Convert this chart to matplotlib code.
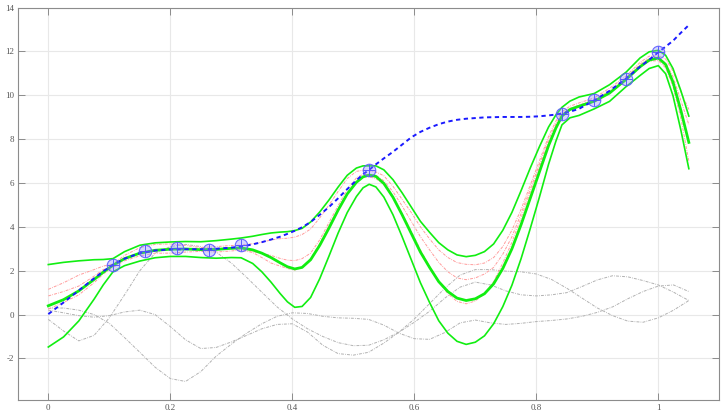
import numpy as np
import matplotlib
matplotlib.use("Agg")
import matplotlib.pyplot as plt

# ---------------- data ----------------
x_post = [0.000, 0.025, 0.050, 0.075, 0.090, 0.106, 0.125, 0.150, 0.175, 0.200,
          0.225, 0.250, 0.275, 0.300, 0.316, 0.335, 0.350, 0.365, 0.380, 0.392,
          0.404, 0.416, 0.430, 0.445, 0.460, 0.475, 0.490, 0.505, 0.516, 0.526,
          0.537, 0.550, 0.565, 0.580, 0.595, 0.610, 0.625, 0.640, 0.655, 0.670,
          0.685, 0.700, 0.715, 0.730, 0.745, 0.760, 0.775, 0.790, 0.805, 0.820,
          0.832, 0.842, 0.855, 0.870, 0.895, 0.920, 0.947, 0.970, 0.985, 1.000,
          1.012, 1.024, 1.037, 1.050]

true_f = [0.02, 0.55, 1.10, 1.65, 1.97, 2.27, 2.55, 2.80, 2.92, 2.97,
          2.98, 2.98, 3.00, 3.05, 3.10, 3.20, 3.30, 3.42, 3.55, 3.68,
          3.82, 3.98, 4.22, 4.55, 4.90, 5.30, 5.72, 6.12, 6.40, 6.60,
          6.85, 7.12, 7.42, 7.75, 8.08, 8.33, 8.52, 8.68, 8.80, 8.88,
          8.93, 8.96, 8.99, 9.00, 9.01, 9.01, 9.01, 9.02, 9.04, 9.08,
          9.12, 9.17, 9.25, 9.38, 9.77, 10.20, 10.76, 11.30, 11.62, 11.96,
          12.22, 12.48, 12.85, 13.20]

post_mean = [0.40, 0.68, 1.08, 1.60, 1.93, 2.25, 2.55, 2.80, 2.93, 2.98,
             2.99, 2.96, 2.97, 3.02, 3.04, 2.95, 2.80, 2.60, 2.36, 2.18,
             2.08, 2.15, 2.50, 3.16, 3.94, 4.76, 5.50, 6.03, 6.28, 6.36,
             6.30, 5.98, 5.35, 4.55, 3.70, 2.85, 2.15, 1.50, 1.05, 0.75,
             0.64, 0.72, 0.95, 1.40, 2.10, 3.00, 4.10, 5.30, 6.50, 7.70,
             8.50, 9.05, 9.35, 9.50, 9.73, 10.10, 10.72, 11.30, 11.60, 11.70,
             11.40, 10.60, 9.30, 7.85]

post_upper = [2.28, 2.38, 2.45, 2.50, 2.51, 2.55, 2.87, 3.16, 3.27, 3.31,
              3.33, 3.32, 3.37, 3.44, 3.49, 3.57, 3.65, 3.72, 3.76, 3.78,
              3.83, 3.93, 4.22, 4.68, 5.22, 5.81, 6.35, 6.68, 6.78, 6.78,
              6.78, 6.60, 6.15, 5.55, 4.90, 4.25, 3.75, 3.28, 2.95, 2.72,
              2.64, 2.70, 2.87, 3.22, 3.84, 4.66, 5.65, 6.68, 7.65, 8.55,
              9.10, 9.45, 9.73, 9.92, 10.08, 10.48, 11.05, 11.70, 11.98, 12.05,
              11.82, 11.22, 10.20, 9.05]

post_lower = [-1.48, -1.02, -0.29, 0.70, 1.35, 1.95, 2.23, 2.44, 2.59, 2.65,
              2.65, 2.60, 2.57, 2.60, 2.59, 2.33, 1.95, 1.48, 0.96, 0.58,
              0.33, 0.37, 0.78, 1.64, 2.66, 3.71, 4.65, 5.38, 5.78, 5.94,
              5.82, 5.36, 4.55, 3.55, 2.50, 1.45, 0.55, -0.28, -0.85, -1.22,
              -1.36, -1.26, -0.97, -0.42, 0.36, 1.34, 2.55, 3.92, 5.35, 6.85,
              7.90, 8.65, 8.97, 9.08, 9.38, 9.72, 10.39, 10.90, 11.22, 11.35,
              10.98, 9.98, 8.40, 6.65]

post_sample_1 = [1.15, 1.45, 1.80, 2.05, 2.21, 2.30, 2.70, 3.05, 3.20, 3.22,
                 3.15, 3.05, 3.10, 3.15, 3.16, 3.23, 3.30, 3.40, 3.46, 3.48,
                 3.53, 3.65, 3.90, 4.41, 4.99, 5.61, 6.20, 6.53, 6.58, 6.56,
                 6.50, 6.33, 5.85, 5.25, 4.65, 4.00, 3.45, 2.95, 2.60, 2.37,
                 2.29, 2.27, 2.35, 2.60, 3.10, 3.85, 4.80, 5.90, 7.00, 8.12,
                 8.82, 9.25, 9.50, 9.65, 9.88, 10.32, 10.87, 11.50, 11.78, 11.80,
                 11.65, 11.10, 10.15, 9.35]

post_sample_2 = [0.85, 1.05, 1.30, 1.75, 2.05, 2.25, 2.55, 2.78, 2.90, 2.95,
                 3.00, 2.98, 2.95, 3.00, 3.00, 2.87, 2.80, 2.70, 2.56, 2.48,
                 2.46, 2.55, 2.80, 3.41, 4.19, 4.96, 5.70, 6.23, 6.40, 6.38,
                 6.35, 6.10, 5.60, 4.95, 4.25, 3.55, 2.95, 2.38, 1.95, 1.67,
                 1.59, 1.67, 1.85, 2.15, 2.75, 3.55, 4.60, 5.72, 6.85, 7.98,
                 8.70, 9.15, 9.40, 9.55, 9.78, 10.20, 10.80, 11.42, 11.68, 11.70,
                 11.48, 10.85, 9.75, 8.66]

post_sample_3 = [0.25, 0.55, 0.90, 1.45, 1.85, 2.15, 2.45, 2.68, 2.80, 2.80,
                 2.85, 2.88, 2.85, 2.90, 2.94, 2.83, 2.60, 2.35, 2.21, 2.10,
                 2.03, 2.15, 2.55, 3.24, 4.04, 4.81, 5.55, 6.08, 6.30, 6.28,
                 6.20, 5.93, 5.35, 4.60, 3.80, 2.95, 2.20, 1.50, 0.95, 0.60,
                 0.49, 0.62, 0.95, 1.50, 2.35, 3.30, 4.40, 5.58, 6.72, 7.85,
                 8.60, 9.05, 9.30, 9.45, 9.68, 10.10, 10.70, 11.30, 11.55, 11.58,
                 11.25, 10.40, 8.95, 6.99]

x_prior = [0.000, 0.025, 0.050, 0.075, 0.100, 0.125, 0.150, 0.175, 0.200, 0.225,
           0.250, 0.275, 0.300, 0.325, 0.350, 0.375, 0.400, 0.425, 0.450, 0.475,
           0.500, 0.525, 0.550, 0.575, 0.600, 0.625, 0.650, 0.675, 0.700, 0.725,
           0.750, 0.775, 0.800, 0.825, 0.850, 0.875, 0.900, 0.925, 0.950, 0.975,
           1.000, 1.025, 1.050]

prior_sample_1 = [0.28, 0.30, 0.20, 0.00, -0.40, -1.05, -1.72, -2.40, -2.92, -3.05,
                  -2.60, -1.90, -1.35, -0.85, -0.42, -0.08, 0.08, 0.05, -0.08, -0.15,
                  -0.17, -0.22, -0.48, -0.85, -1.10, -1.13, -0.82, -0.38, -0.25, -0.38,
                  -0.45, -0.40, -0.32, -0.27, -0.20, -0.08, 0.10, 0.35, 0.72, 1.05,
                  1.30, 1.35, 1.05]

prior_sample_2 = [-0.22, -0.75, -1.20, -0.95, -0.15, 0.90, 2.00, 2.80, 3.10, 3.20,
                  3.10, 2.85, 2.35, 1.70, 1.02, 0.35, -0.20, -0.65, -1.00, -1.28,
                  -1.42, -1.40, -1.15, -0.80, -0.35, 0.15, 0.75, 1.25, 1.48, 1.35,
                  1.08, 0.90, 0.85, 0.90, 1.00, 1.28, 1.58, 1.77, 1.72, 1.55,
                  1.35, 1.02, 0.64]

prior_sample_3 = [0.20, 0.08, -0.05, -0.12, -0.05, 0.12, 0.20, 0.00, -0.55, -1.15,
                  -1.55, -1.50, -1.25, -0.95, -0.65, -0.45, -0.42, -0.80, -1.40, -1.78,
                  -1.85, -1.72, -1.30, -0.80, -0.20, 0.50, 1.20, 1.80, 2.05, 2.05,
                  1.98, 1.95, 1.85, 1.60, 1.20, 0.75, 0.30, -0.05, -0.30, -0.35,
                  -0.15, 0.20, 0.64]

x_train = [2/19, 3/19, 4/19, 5/19, 6/19, 10/19, 16/19, 17/19, 18/19, 19/19]
y_train = [2.27, 2.88, 3.03, 2.95, 3.15, 6.61, 9.16, 9.77, 10.76, 11.96]

xticks = [0, 0.2, 0.4, 0.6, 0.8, 1.0]
xtick_labels = ["0", "0.2", "0.4", "0.6", "0.8", "1"]
yticks = [-2, 0, 2, 4, 6, 8, 10, 12, 14]
ytick_labels = ["-2", "0", "2", "4", "6", "8", "10", "12", "14"]

# ---------------- figure ----------------
fig = plt.figure(figsize=(7.21, 4.11), dpi=100)
ax = fig.add_axes([0.0247, 0.026, 0.973, 0.9557])

ax.set_xlim(-0.05, 1.1)
ax.set_ylim(-3.91, 14)

ax.grid(True, color="#e8e8e8", linewidth=0.8, zorder=0)
ax.set_axisbelow(True)

grey = "#b2b2b2"
for ys in (prior_sample_1, prior_sample_2, prior_sample_3):
    ax.plot(x_prior, ys, color=grey, lw=0.7, ls=(0, (3, 1.2, 0.8, 1.2)), zorder=2)

red = "#ff9c9c"
for ys in (post_sample_1, post_sample_2, post_sample_3):
    ax.plot(x_post, ys, color=red, lw=0.7, ls=(0, (3, 1.2, 0.8, 1.2)), zorder=3)

green = "#11ee11"
ax.plot(x_post, post_upper, color=green, lw=1.2, zorder=4)
ax.plot(x_post, post_lower, color=green, lw=1.2, zorder=4)
ax.plot(x_post, post_mean, color=green, lw=2.0, zorder=4)

ax.plot(x_post, true_f, color="#1a1aff", lw=1.4, ls=(0, (2.2, 1.8)), zorder=5)

ax.plot(x_train, y_train, "o", ms=9, mfc=(0.55, 0.55, 1.0, 0.35),
        mec=(0.35, 0.35, 1.0, 0.9), mew=0.8, zorder=6)
ax.plot(x_train, y_train, "+", ms=9, color=(0.3, 0.3, 1.0, 0.9), mew=0.7, zorder=7)

ax.set_xticks(xticks)
ax.set_xticklabels(xtick_labels)
ax.set_yticks(yticks)
ax.set_yticklabels(ytick_labels)

for side in ("top", "bottom", "left", "right"):
    ax.spines[side].set_color("#8c8c8c")
    ax.spines[side].set_linewidth(0.8)

ax.tick_params(direction="in", length=5, width=0.7, color="#8c8c8c",
               top=True, right=True, labelsize=6.5, labelcolor="#555555", pad=2.5)
for lab in ax.get_xticklabels() + ax.get_yticklabels():
    lab.set_family(["Liberation Serif", "DejaVu Serif"])

fig.savefig("out.png", dpi=100)
